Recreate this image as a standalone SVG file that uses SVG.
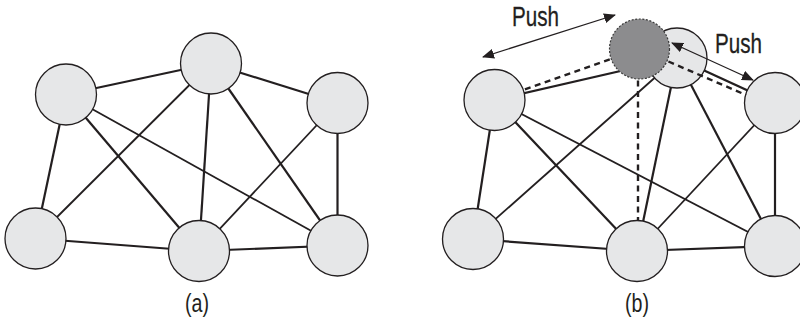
<svg xmlns="http://www.w3.org/2000/svg" width="800" height="320" viewBox="0 0 800 320">
<style>
.node{fill:#e6e7e8;stroke:#231f20;stroke-width:1.3}
.ghost{fill:#8c8c8e;stroke:#3a3a3a;stroke-width:1.2;stroke-dasharray:2 1.6}
.e{stroke:#231f20;stroke-width:2.2;fill:none}
.t{stroke:#231f20;stroke-width:1.8;fill:none}
.d{stroke:#231f20;stroke-width:2.4;fill:none;stroke-dasharray:6 4.5}
.arr{stroke:#231f20;stroke-width:1.3;fill:none;marker-start:url(#ah);marker-end:url(#ah)}
.lbl{font-family:"Liberation Sans",Arial,sans-serif;font-size:25px;fill:#231f20}
.push{font-size:27px;stroke:#231f20;stroke-width:0.3}
</style>
<defs>
<marker id="ah" viewBox="0 0 12 10" refX="11" refY="5" markerWidth="12" markerHeight="10" markerUnits="userSpaceOnUse" orient="auto-start-reverse">
<path d="M0,0 L12,5 L0,10 z" fill="#231f20"/>
</marker>
</defs>
<g id="connectors">
<!-- panel a -->
<line class="e" x1="66" y1="94.5" x2="211" y2="63.5"/>
<line class="e" x1="211" y1="63.5" x2="337.5" y2="103"/>
<line class="e" x1="66" y1="94.5" x2="35.5" y2="238.5"/>
<line class="e" x1="35.5" y1="238.5" x2="199" y2="251"/>
<line class="e" x1="199" y1="251" x2="337.5" y2="245.5"/>
<line class="e" x1="337.5" y1="103" x2="337.5" y2="245.5"/>
<line class="t" x1="211" y1="63.5" x2="35.5" y2="238.5"/>
<line class="e" x1="66" y1="94.5" x2="199" y2="251"/>
<line class="t" x1="66" y1="94.5" x2="337.5" y2="245.5"/>
<line class="e" x1="211" y1="63.5" x2="199" y2="251"/>
<line class="e" x1="211" y1="63.5" x2="337.5" y2="245.5"/>
<line class="t" x1="337.5" y1="103" x2="199" y2="251"/>
<!-- panel b -->
<line class="e" x1="494.5" y1="100" x2="677" y2="58"/>
<line class="e" x1="677" y1="58" x2="775" y2="103"/>
<line class="e" x1="494.5" y1="100" x2="473" y2="239"/>
<line class="e" x1="473" y1="239" x2="637" y2="251"/>
<line class="e" x1="637" y1="251" x2="775" y2="246"/>
<line class="e" x1="775" y1="103" x2="775" y2="246"/>
<line class="t" x1="677" y1="58" x2="473" y2="239"/>
<line class="e" x1="494.5" y1="100" x2="637" y2="251"/>
<line class="t" x1="494.5" y1="100" x2="775" y2="246"/>
<line class="e" x1="677" y1="58" x2="637" y2="251"/>
<line class="e" x1="677" y1="58" x2="775" y2="246"/>
<line class="t" x1="775" y1="103" x2="637" y2="251"/>
</g>
<g id="node-a1"><circle class="node" cx="66" cy="94.5" r="30.5"/></g>
<g id="node-a2"><circle class="node" cx="211" cy="63.5" r="30.5"/></g>
<g id="node-a3"><circle class="node" cx="337.5" cy="103" r="30.5"/></g>
<g id="node-a4"><circle class="node" cx="35.5" cy="238.5" r="30.5"/></g>
<g id="node-a5"><circle class="node" cx="199" cy="251" r="30.5"/></g>
<g id="node-a6"><circle class="node" cx="337.5" cy="245.5" r="30.5"/></g>
<g id="node-b1"><circle class="node" cx="494.5" cy="100" r="30.5"/></g>
<g id="node-b3"><circle class="node" cx="775" cy="103" r="30.5"/></g>
<g id="node-b4"><circle class="node" cx="473" cy="239" r="30.5"/></g>
<g id="node-b5"><circle class="node" cx="637" cy="251" r="30.5"/></g>
<g id="node-b6"><circle class="node" cx="775" cy="246" r="30.5"/></g>
<g id="node-b2"><circle class="node" cx="677" cy="58" r="30"/></g>
<g id="dashed-connectors">
<line class="d" x1="639.5" y1="49" x2="523" y2="90"/>
<line class="d" x1="639.5" y1="49" x2="746" y2="95"/>
<line class="d" x1="638" y1="49" x2="638" y2="221"/>
</g>
<g id="node-ghost"><circle class="ghost" cx="639.5" cy="49" r="30"/></g>
<g id="push-arrows">
<line class="arr" x1="483" y1="57" x2="615" y2="15"/>
<line class="arr" x1="672" y1="43" x2="753" y2="80"/>
</g>
<g id="labels">
<text class="lbl push" x="512" y="26" textLength="47" lengthAdjust="spacingAndGlyphs">Push</text>
<text class="lbl push" x="715" y="53" textLength="47" lengthAdjust="spacingAndGlyphs">Push</text>
<text class="lbl" x="185" y="312" textLength="24" lengthAdjust="spacingAndGlyphs">(a)</text>
<text class="lbl" x="625" y="312" textLength="24" lengthAdjust="spacingAndGlyphs">(b)</text>
</g>
</svg>
